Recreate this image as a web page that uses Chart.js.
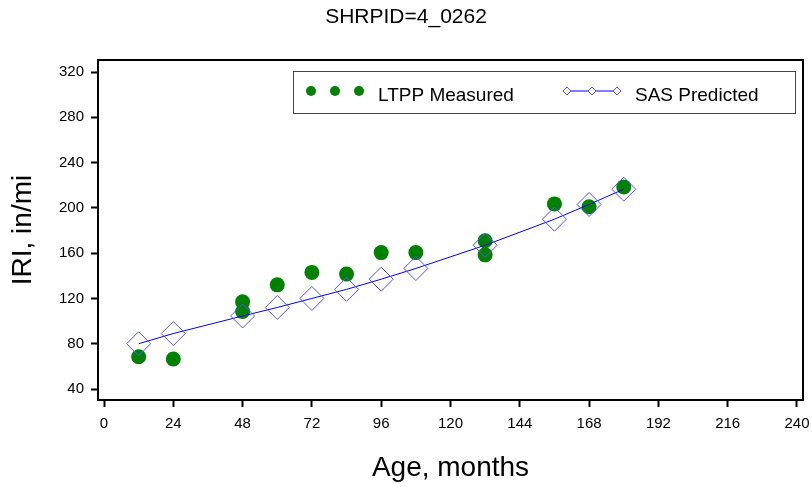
<!DOCTYPE html>
<html>
<head>
<meta charset="utf-8">
<script src="https://cdn.jsdelivr.net/npm/chart.js@4/dist/chart.umd.min.js"></script>
<style>
  html, body { margin: 0; padding: 0; background: #fff; }
</style>
</head>
<body>
<canvas id="iriChart" width="812" height="489"></canvas>
<script>
// SHRPID 4_0262 - IRI medido vs predicho
const CHART_TITLE = 'SHRPID=4_0262';

// LTPP medido
const AGE_MEASURED = [12, 24, 48, 48, 60, 72, 84, 96, 108, 132, 132, 156, 168, 180];
const IRI_MEASURED = [68.5, 66.5, 117, 108.5, 132, 143, 141.5, 160.5, 160.5, 171, 158.5, 203.5, 201, 218.5];

// SAS predicho
const AGE_PREDICTED = [12, 24, 48, 60, 72, 84, 96, 108, 132, 156, 168, 180];
const IRI_PREDICTED = [80, 89, 104.5, 112, 120, 128, 137, 146.5, 167, 190, 203, 216.5];

// ejes
const X_TICKS = [0, 24, 48, 72, 96, 120, 144, 168, 192, 216, 240];
const Y_TICKS = [40, 80, 120, 160, 200, 240, 280, 320];

const GREEN = '#008000';
const BLUE = '#0000ff';
const DIAMOND = 'rgb(85,85,255)';

const toPoints = (xs, ys) => xs.map((x, i) => ({ x, y: ys[i] }));

// marco del área, título y leyenda
const decorations = {
  id: 'decorations',
  afterDraw(chart) {
    const { ctx, chartArea: a } = chart;
    ctx.save();

    // marco
    ctx.strokeStyle = '#000';
    ctx.lineWidth = 2;
    ctx.strokeRect(a.left, a.top, a.right - a.left, a.bottom - a.top);

    // título
    ctx.fillStyle = '#000';
    ctx.font = '21px Arial, "Liberation Sans", sans-serif';
    ctx.textAlign = 'center';
    ctx.textBaseline = 'alphabetic';
    ctx.fillText(CHART_TITLE, chart.width / 2, 23);

    // leyenda
    const bx = 293.5, by = 71.5, bw = 502, bh = 42;
    ctx.lineWidth = 1;
    ctx.strokeStyle = '#444';
    ctx.strokeRect(bx, by, bw, bh);
    const cy = 91;

    ctx.fillStyle = GREEN;
    [311, 335, 359].forEach(x => {
      ctx.beginPath();
      ctx.arc(x, cy, 5, 0, Math.PI * 2);
      ctx.fill();
    });

    ctx.strokeStyle = BLUE;
    ctx.beginPath();
    ctx.moveTo(563, cy);
    ctx.lineTo(621, cy);
    ctx.stroke();
    ctx.strokeStyle = DIAMOND;
    [567, 592, 617].forEach(x => {
      ctx.fillStyle = '#fff';
      ctx.beginPath();
      ctx.moveTo(x - 4, cy);
      ctx.lineTo(x, cy - 4);
      ctx.lineTo(x + 4, cy);
      ctx.lineTo(x, cy + 4);
      ctx.closePath();
      ctx.fill();
      ctx.stroke();
    });

    ctx.fillStyle = '#000';
    ctx.font = '19px Arial, "Liberation Sans", sans-serif';
    ctx.textAlign = 'left';
    ctx.fillText('LTPP Measured', 378, 101);
    ctx.fillText('SAS Predicted', 635, 101);

    ctx.restore();
  }
};

const tickGrid = {
  drawOnChartArea: false,
  drawTicks: true,
  tickLength: 7,
  tickWidth: 2,
  tickColor: '#000'
};

new Chart(document.getElementById('iriChart'), {
  type: 'scatter',
  data: {
    datasets: [
      {
        label: 'LTPP Measured',
        data: toPoints(AGE_MEASURED, IRI_MEASURED),
        pointStyle: 'circle',
        pointRadius: 7.5,
        pointBackgroundColor: GREEN,
        pointBorderColor: GREEN,
        pointBorderWidth: 0,
        showLine: false,
        order: 2
      },
      {
        label: 'SAS Predicted',
        data: toPoints(AGE_PREDICTED, IRI_PREDICTED),
        pointStyle: 'rectRot',
        pointRadius: 12,
        pointBackgroundColor: 'rgba(0,0,0,0)',
        pointBorderColor: DIAMOND,
        pointBorderWidth: 1,
        borderColor: BLUE,
        borderWidth: 1,
        showLine: true,
        order: 1
      }
    ]
  },
  options: {
    responsive: false,
    animation: false,
    layout: { autoPadding: false, padding: { top: 60, right: 9, left: 0, bottom: 0 } },
    plugins: {
      legend: { display: false },
      tooltip: { enabled: false }
    },
    scales: {
      x: {
        type: 'linear',
        min: -2.08,
        max: 242.08,
        afterBuildTicks: s => { s.ticks = X_TICKS.map(v => ({ value: v })); },
        afterFit: s => {
          s.height = 89;
          s.paddingLeft = 0;
          s.paddingRight = 0;
        },
        border: { display: false },
        grid: tickGrid,
        ticks: {
          color: '#000',
          font: { family: 'Arial, "Liberation Sans"', size: 15 },
          padding: 8,
          maxRotation: 0,
          autoSkip: false
        },
        title: {
          display: true,
          text: 'Age, months',
          color: '#000',
          font: { family: 'Arial, "Liberation Sans"', size: 28 },
          padding: { top: 0, bottom: 4 }
        }
      },
      y: {
        type: 'linear',
        min: 30.3,
        max: 330.6,
        afterBuildTicks: s => { s.ticks = Y_TICKS.map(v => ({ value: v })); },
        afterFit: s => {
          s.width = 98;
          s.paddingTop = 0;
          s.paddingBottom = 0;
        },
        border: { display: false },
        grid: tickGrid,
        ticks: {
          color: '#000',
          font: { family: 'Arial, "Liberation Sans"', size: 15 },
          padding: 7,
          autoSkip: false
        },
        title: {
          display: true,
          text: 'IRI, in/mi',
          color: '#000',
          font: { family: 'Arial, "Liberation Sans"', size: 28 },
          padding: { top: 6, bottom: 0 }
        }
      }
    }
  },
  plugins: [decorations]
});
</script>
</body>
</html>
